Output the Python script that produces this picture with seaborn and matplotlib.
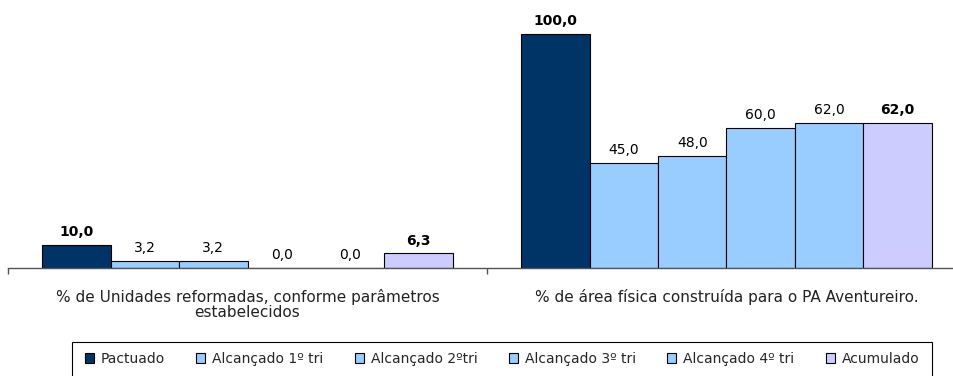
import matplotlib
matplotlib.use("Agg")
import matplotlib.pyplot as plt
import seaborn as sns
import pandas as pd

sns.set_style("white")
plt.rcParams["font.family"] = ["DejaVu Sans"]

indicators = [
    "% de Unidades reformadas, conforme parâmetros\nestabelecidos",
    "% de área física construída para o PA Aventureiro.",
]
series = ["Pactuado", "Alcançado 1º tri", "Alcançado 2ºtri",
          "Alcançado 3º tri", "Alcançado 4º tri", "Acumulado"]
pactuado = [10.0, 100.0]
alc_1tri = [3.2, 45.0]
alc_2tri = [3.2, 48.0]
alc_3tri = [0.0, 60.0]
alc_4tri = [0.0, 62.0]
acumulado = [6.3, 62.0]
colors = ["#003366", "#99CCFF", "#99CCFF", "#99CCFF", "#99CCFF", "#CCCCFF"]
bold_series = {"Pactuado", "Acumulado"}

values = [pactuado, alc_1tri, alc_2tri, alc_3tri, alc_4tri, acumulado]
rows = []
for name, vals in zip(series, values):
    for ind, v in zip(indicators, vals):
        rows.append({"indicador": ind, "serie": name, "valor": v})
df = pd.DataFrame(rows)

fig = plt.figure(figsize=(9.54, 3.76), dpi=100)
W, H = 954, 376
ax = fig.add_axes([8 / W, 108 / H, 958 / W, 257.4 / H])

sns.barplot(data=df, x="indicador", y="valor", hue="serie", hue_order=series,
            order=indicators, palette=colors, saturation=1, width=0.858,
            gap=0, edgecolor="black", linewidth=0.8, legend=False, ax=ax)

ax.set_ylim(0, 110)
ax.set_xlim(-0.5, 1.5)

# value labels above each bar
for container, name in zip(ax.containers, series):
    labels = [f"{v:.1f}".replace(".", ",") for v in container.datavalues]
    bold = name in bold_series
    ax.bar_label(container, labels=labels, padding=4, fontsize=10,
                 fontweight="bold" if bold else "normal", color="black")

for side in ["top", "right", "left"]:
    ax.spines[side].set_visible(False)
ax.spines["bottom"].set_color("#555555")
ax.spines["bottom"].set_linewidth(1.0)
ax.set_yticks([])
ax.set_xlabel("")
ax.set_ylabel("")

# category boundaries as ticks, names centered between them
ax.set_xticks([-0.5, 0.5, 1.5])
ax.set_xticklabels([])
ax.tick_params(axis="x", which="major", length=4, width=1, color="#555555",
               direction="out", bottom=True)
ax.set_xticks([0, 1], minor=True)
ax.set_xticklabels(indicators, minor=True, fontsize=11, linespacing=1.05,
                   color="#222222")
ax.tick_params(axis="x", which="minor", length=0, pad=15)

# legend row with a rectangular frame running off the bottom edge
handles = [plt.Rectangle((0, 0), 1, 1, facecolor=c, edgecolor="black",
                         linewidth=0.8) for c in colors]
leg = fig.legend(handles, series, loc="center left", ncol=6,
                 bbox_to_anchor=(85 / W, 1 - 359 / H),
                 fontsize=10, handlelength=0.65, handleheight=0.65,
                 handletextpad=0.5, columnspacing=2.25, borderpad=0,
                 borderaxespad=0, frameon=False)
frame = plt.Rectangle((72 / W, -0.05), 860 / W, (376 - 342) / H + 0.05,
                      transform=fig.transFigure, fill=False,
                      edgecolor="black", linewidth=0.8)
fig.patches.append(frame)

fig.savefig("out.png", dpi=100)
